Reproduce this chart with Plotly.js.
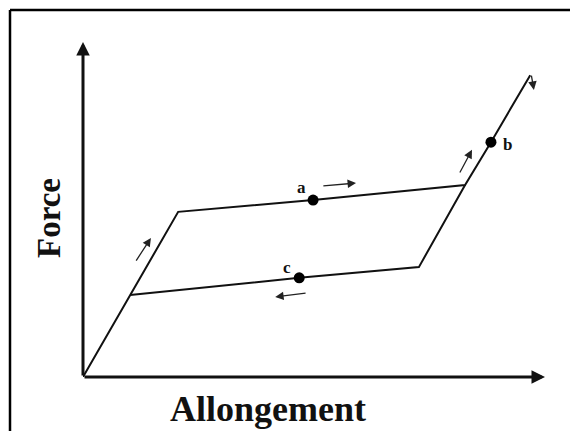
<!DOCTYPE html>
<html>
<head>
<meta charset="utf-8">
<script src="https://cdn.plot.ly/plotly-3.0.1.min.js"></script>
<style>html,body{margin:0;padding:0;background:#fff;overflow:hidden;}#chart{width:570px;height:431px;overflow:hidden;}</style>
</head>
<body>
<div id="chart"></div>
<script>
// Schematic hysteresis loop: Force vs Allongement (arbitrary units 0-100)
const loadX = [0, 10.2, 20.6, 49.8, 82.7, 88.3, 96.8];
const loadY = [0, 24.5, 49.3, 52.8, 57.3, 70.1, 90.1];
const unloadX = [82.7, 72.7, 46.8, 10.2];
const unloadY = [57.3, 32.8, 29.6, 24.5];

const pointLabels = ["a", "b", "c"];
const pointX = [49.8, 88.3, 46.8];
const pointY = [52.8, 70.1, 29.6];
const labelX = [47.4, 91.8, 44.2];
const labelY = [56.7, 69.3, 32.8];

// direction arrows: tail -> head
const arrowTailX = [11.3, 51.7, 81.4, 48.5, 97.0];
const arrowTailY = [34.3, 57.0, 60.6, 25.1, 90.4];
const arrowHeadX = [14.7, 59.1, 84.2, 41.6, 97.6];
const arrowHeadY = [41.5, 57.9, 67.8, 23.9, 85.7];

const serif = "Liberation Serif, Times New Roman, serif";

const traces = [
  {x: loadX, y: loadY, mode: "lines", line: {color: "#111", width: 2}, hoverinfo: "skip", showlegend: false},
  {x: unloadX, y: unloadY, mode: "lines", line: {color: "#111", width: 2}, hoverinfo: "skip", showlegend: false},
  {x: pointX, y: pointY, mode: "markers", marker: {color: "#000", size: 11}, text: pointLabels, hoverinfo: "text", showlegend: false}
];

const annotations = [];
// axes drawn as arrows from origin
annotations.push({x: 100, y: 0, ax: 0, ay: 0, xref: "x", yref: "y", axref: "x", ayref: "y",
  text: "", showarrow: true, arrowhead: 2, arrowsize: 0.9, arrowwidth: 3, arrowcolor: "#111"});
annotations.push({x: 0, y: 100, ax: 0, ay: 0, xref: "x", yref: "y", axref: "x", ayref: "y",
  text: "", showarrow: true, arrowhead: 2, arrowsize: 0.9, arrowwidth: 3, arrowcolor: "#111"});
for (let i = 0; i < arrowTailX.length; i++) {
  annotations.push({x: arrowHeadX[i], y: arrowHeadY[i], ax: arrowTailX[i], ay: arrowTailY[i],
    xref: "x", yref: "y", axref: "x", ayref: "y", text: "", showarrow: true,
    arrowhead: 2, arrowsize: 1.3, arrowwidth: 1.3, arrowcolor: "#222"});
}
for (let i = 0; i < pointLabels.length; i++) {
  annotations.push({x: labelX[i], y: labelY[i], xref: "x", yref: "y", xanchor: "center", yanchor: "middle",
    text: "<b>" + pointLabels[i] + "</b>",
    showarrow: false, font: {family: serif, size: 17, color: "#111"}});
}
annotations.push({x: (268 - 83) / 462, y: (377 - 409) / 335, xref: "paper", yref: "paper",
  xanchor: "center", yanchor: "middle",
  text: "<b>Allongement</b>", showarrow: false, font: {family: serif, size: 36, color: "#111"}});
annotations.push({x: (49 - 83) / 462, y: (377 - 218) / 335, xref: "paper", yref: "paper", textangle: -90,
  xanchor: "center", yanchor: "middle",
  text: "<b>Force</b>", showarrow: false, font: {family: serif, size: 33, color: "#111"}});

const frameTop = (377 - 10) / 335;
const frameLeft = (10 - 83) / 462;
const layout = {
  width: 570, height: 431,
  margin: {l: 83, r: 25, t: 42, b: 54, pad: 0},
  paper_bgcolor: "#fff", plot_bgcolor: "#fff",
  xaxis: {range: [0, 100], visible: false, fixedrange: true},
  yaxis: {range: [0, 100], visible: false, fixedrange: true},
  showlegend: false,
  annotations: annotations,
  shapes: [
    {type: "line", xref: "paper", yref: "paper", x0: frameLeft, x1: 1.06, y0: frameTop, y1: frameTop,
      line: {color: "#000", width: 2.5}, layer: "below"},
    {type: "line", xref: "paper", yref: "paper", x0: frameLeft, x1: frameLeft, y0: frameTop, y1: -0.17,
      line: {color: "#000", width: 2.5}, layer: "below"}
  ]
};

Plotly.newPlot("chart", traces, layout, {staticPlot: true, displayModeBar: false});
</script>
</body>
</html>
